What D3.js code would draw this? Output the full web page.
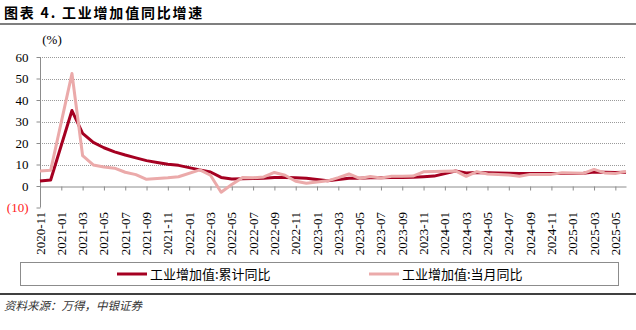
<!DOCTYPE html>
<html><head><meta charset="utf-8">
<script src="https://cdn.jsdelivr.net/npm/d3@7"></script>
<style>
html,body{margin:0;padding:0;background:#fff;}
svg{display:block;}
</style></head>
<body>
<svg id="c" width="636" height="330"></svg>
<script>
const months = ["2020-11","2020-12","2021-01","2021-02","2021-03","2021-04","2021-05","2021-06","2021-07","2021-08","2021-09","2021-10","2021-11","2021-12",
"2022-01","2022-02","2022-03","2022-04","2022-05","2022-06","2022-07","2022-08","2022-09","2022-10","2022-11","2022-12",
"2023-01","2023-02","2023-03","2023-04","2023-05","2023-06","2023-07","2023-08","2023-09","2023-10","2023-11","2023-12",
"2024-01","2024-02","2024-03","2024-04","2024-05","2024-06","2024-07","2024-08","2024-09","2024-10","2024-11","2024-12",
"2025-01","2025-02","2025-03","2025-04","2025-05","2025-06"];
const tickLabels = ["2020-11","2021-01","2021-03","2021-05","2021-07","2021-09","2021-11","2022-01","2022-03","2022-05","2022-07","2022-09","2022-11",
"2023-01","2023-03","2023-05","2023-07","2023-09","2023-11","2024-01","2024-03","2024-05","2024-07","2024-09","2024-11","2025-01","2025-03","2025-05"];
const cumulative = [2.3,2.8,null,35.1,24.5,20.3,17.8,15.9,14.4,13.1,11.8,10.9,10.1,9.6,
null,7.5,6.5,4.0,3.3,3.4,3.5,3.6,3.9,4.0,3.8,3.6,
null,2.4,3.0,3.6,3.6,3.8,3.8,3.9,4.0,4.1,4.3,4.6,
null,7.0,6.1,6.3,6.2,6.0,5.9,5.8,5.8,5.8,5.8,5.8,
null,5.9,6.5,6.4,6.3,6.4];
const monthly = [7.0,7.3,null,52.3,14.1,9.8,8.8,8.3,6.4,5.3,3.1,3.5,3.8,4.3,
null,7.5,5.0,-2.9,0.7,3.9,3.8,4.2,6.3,5.0,2.2,1.3,
null,2.4,3.9,5.6,3.5,4.4,3.7,4.5,4.5,4.6,6.6,6.8,
null,7.0,4.5,6.7,5.6,5.3,5.1,4.5,5.4,5.3,5.4,6.2,
null,5.9,7.7,6.1,5.8,6.8];
const yTicks = [60,50,40,30,20,10,0,-10];
const seriesNames = ["工业增加值:累计同比","工业增加值:当月同比"];
const colors = ["#A50021","#EBAAAA"];

const svg = d3.select("#c");
const x = d3.scalePoint().domain(months).range([40,626]);
const y = d3.scaleLinear().domain([-10,60]).range([207.5,57]);
const serif = "'Liberation Serif','Times New Roman',serif";
const cjk = "'Noto Sans CJK SC','Noto Sans',sans-serif";

// title
svg.append("text").attr("x",4).attr("y",18).attr("font-family",cjk).attr("font-weight","bold")
  .attr("font-size",14).attr("letter-spacing",1.8).attr("fill","#000").text("图表 4. 工业增加值同比增速");
svg.append("line").attr("x1",0).attr("x2",636).attr("y1",24).attr("y2",24).attr("stroke","#7f7f7f").attr("stroke-width",2);

// gridlines
const g = svg.append("g");
g.selectAll("line.grid").data(yTicks.filter(d=>d>0)).join("line")
  .attr("x1",40).attr("x2",626).attr("y1",d=>Math.round(y(d))+0.5).attr("y2",d=>Math.round(y(d))+0.5)
  .attr("stroke","#9a9a9a").attr("stroke-width",1).attr("stroke-dasharray","1,1");

// y axis
const yAxis = d3.axisLeft(y).tickValues(yTicks).tickSize(4)
  .tickFormat(d => d<0 ? "("+Math.abs(d)+")" : d);
const ya = svg.append("g").attr("transform","translate(40.5,0)").call(yAxis);
ya.select(".domain").attr("stroke","#8c8c8c").attr("d","M0,"+y(60)+"V"+y(-10));
ya.selectAll(".tick line").attr("stroke","#8c8c8c");
ya.selectAll(".tick text").attr("font-family",serif).attr("font-size",13).attr("x",-12)
  .attr("fill",d=> d<0 ? "#ff2020" : "#000");

svg.append("text").attr("x",52).attr("y",44).attr("text-anchor","middle").attr("font-family",serif)
  .attr("font-size",13).text("(%)");

// x axis on zero line
const xAxis = d3.axisBottom(x).tickValues(tickLabels).tickSize(4).tickSizeOuter(0);
const xa = svg.append("g").attr("transform","translate(0,"+(Math.round(y(0))+0.5)+")").call(xAxis);
xa.select(".domain").attr("stroke","#8c8c8c");
xa.selectAll(".tick line").attr("stroke","#8c8c8c");
xa.selectAll(".tick text").remove();
// x labels below plot
svg.append("g").selectAll("text").data(tickLabels).join("text")
  .attr("transform",d=>"translate("+(x(d)+4.5)+",212) rotate(-90)")
  .attr("text-anchor","end").attr("font-family",serif).attr("font-size",13).attr("fill","#000")
  .text(d=>d);

// lines
const line = d3.line().x(d=>x(d.m)).y(d=>y(d.v));
[cumulative, monthly].forEach((arr,i)=>{
  const pts = months.map((m,k)=>({m:m,v:arr[k]})).filter(d=>d.v!==null);
  svg.append("path").datum(pts).attr("d",line).attr("fill","none")
    .attr("stroke",colors[i]).attr("stroke-width",3).attr("stroke-linejoin","round");
});

// legend
svg.append("rect").attr("x",20.5).attr("y",262.5).attr("width",598).attr("height",23)
  .attr("fill","#fff").attr("stroke","#8c8c8c").attr("stroke-width",1);
const legX = [117,369];
seriesNames.forEach((n,i)=>{
  svg.append("line").attr("x1",legX[i]).attr("x2",legX[i]+30).attr("y1",274).attr("y2",274)
    .attr("stroke",colors[i]).attr("stroke-width",3);
  svg.append("text").attr("x",legX[i]+33).attr("y",278.5).attr("font-family",cjk).attr("font-size",13)
    .attr("fill","#000").text(n);
});

// bottom rule and source
svg.append("line").attr("x1",0).attr("x2",636).attr("y1",294).attr("y2",294).attr("stroke","#000").attr("stroke-width",1.5);
svg.append("text").attr("x",4).attr("y",310).attr("font-family",cjk).attr("font-size",11.5)
  .attr("font-style","italic").attr("fill","#333").text("资料来源：万得，中银证券");
</script>
</body></html>
